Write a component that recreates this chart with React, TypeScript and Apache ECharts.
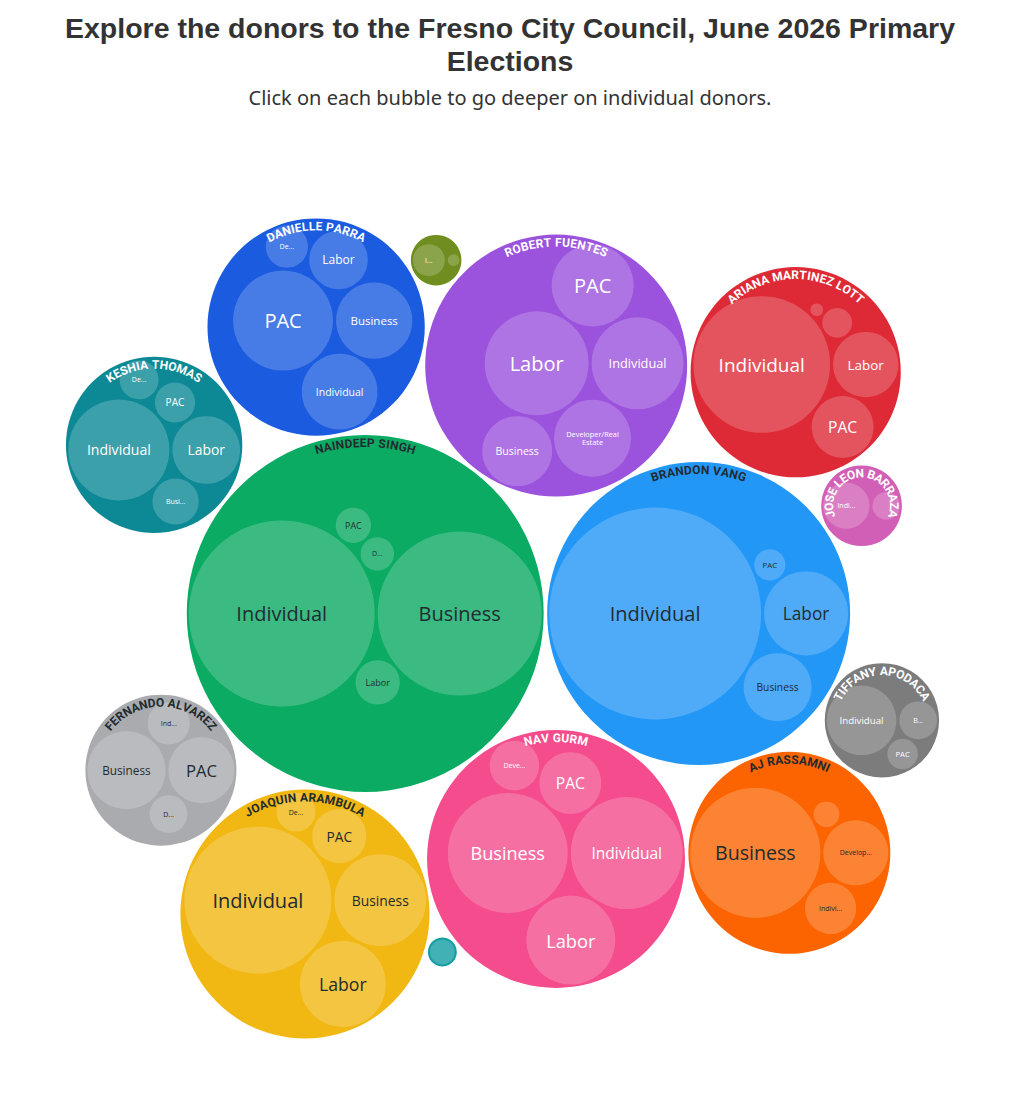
import React, { useEffect, useRef } from "react";
import * as echarts from "echarts";

// ---------------- data ----------------
const TITLE_LINES = ["Explore the donors to the Fresno City Council, June 2026 Primary", "Elections"];
const SUBTITLE = "Click on each bubble to go deeper on individual donors.";

const CANDIDATES = [
  "Naindeep Singh", "Brandon Vang", "Nav Gurm", "Robert Fuentes", "Joaquin Arambula",
  "Danielle Parra", "Ariana Martinez Lott", "AJ Rassamni", "Keshia Thomas", "Fernando Alvarez",
  "Tiffany Apodaca", "Jose Leon Barraza", "", "",
];

// donor category -> amount
const NAINDEEP_SINGH: [string, number][] = [["Individual", 77800], ["Business", 60500], ["Labor", 4400], ["Developer/Real Estate", 2500], ["PAC", 2800]];
const BRANDON_VANG: [string, number][] = [["Individual", 101000], ["Labor", 15900], ["Business", 10400], ["PAC", 2200]];
const NAV_GURM: [string, number][] = [["Business", 32400], ["Individual", 28200], ["Labor", 17800], ["PAC", 8600], ["Developer/Real Estate", 5500]];
const ROBERT_FUENTES: [string, number][] = [["Labor", 24300], ["Individual", 19000], ["Developer/Real Estate", 13300], ["PAC", 15100], ["Business", 11000]];
const JOAQUIN_ARAMBULA: [string, number][] = [["Individual", 48600], ["Business", 19000], ["Labor", 16600], ["PAC", 6600], ["Developer/Real Estate", 3400]];
const DANIELLE_PARRA: [string, number][] = [["PAC", 22500], ["Business", 13100], ["Individual", 12900], ["Labor", 7700], ["Developer/Real Estate", 4000]];
const ARIANA_MARTINEZ_LOTT: [string, number][] = [["Individual", 42000], ["Labor", 9600], ["PAC", 8600], ["Business", 2000], ["Developer/Real Estate", 360]];
const AJ_RASSAMNI: [string, number][] = [["Business", 38000], ["Developer/Real Estate", 9500], ["Individual", 5900], ["PAC", 1500]];
const KESHIA_THOMAS: [string, number][] = [["Individual", 23000], ["Labor", 10300], ["Business", 4800], ["PAC", 3600], ["Developer/Real Estate", 3400]];
const FERNANDO_ALVAREZ: [string, number][] = [["Business", 13700], ["PAC", 9800], ["Developer/Real Estate", 3200], ["Individual", 4000]];
const TIFFANY_APODACA: [string, number][] = [["Individual", 10900], ["Business", 3200], ["PAC", 2100]];
const JOSE_LEON_BARRAZA: [string, number][] = [["Individual", 4800], ["PAC", 1700]];
const UNLABELED_OLIVE: [string, number][] = [["Individual", 2300], ["PAC", 300]];
const UNLABELED_TEAL: [string, number][] = [["Individual", 1400]];

const DONORS = [
  NAINDEEP_SINGH, BRANDON_VANG, NAV_GURM, ROBERT_FUENTES, JOAQUIN_ARAMBULA, DANIELLE_PARRA,
  ARIANA_MARTINEZ_LOTT, AJ_RASSAMNI, KESHIA_THOMAS, FERNANDO_ALVAREZ, TIFFANY_APODACA,
  JOSE_LEON_BARRAZA, UNLABELED_OLIVE, UNLABELED_TEAL,
];

// ---------------- styles / layout rules ----------------
const CANDIDATE_COLORS = ["#0bab63", "#2397f6", "#f44c8c", "#9b52dd", "#f1b712", "#1a5be0", "#de2a36", "#fb6400", "#0c8995", "#a9abaf", "#7c7c7c", "#d25fb6", "#6f8e1f", "#139ea4"];
const DARK_INK = [true, true, false, false, true, false, false, true, false, true, false, false, false, false];

// packing topology: circle i is set tangent to circles [a, b], on the right-hand side of a -> b
const CANDIDATE_TOUCH: number[][] = [[], [], [0, 1], [1, 0], [0, 2], [3, 0], [1, 3], [2, 1], [5, 0], [0, 4], [7, 1], [1, 6], [3, 5], [4, 2]];
const DONOR_TOUCH: number[][][] = [
  [[], [], [0, 1], [1, 0], [3, 0]],
  [[], [], [0, 1], [1, 0]],
  [[], [], [0, 1], [1, 0], [3, 0]],
  [[], [], [0, 1], [1, 0], [0, 2]],
  [[], [], [0, 1], [1, 0], [3, 0]],
  [[], [], [0, 1], [1, 0], [3, 0]],
  [[], [], [0, 1], [1, 0], [3, 0]],
  [[], [], [0, 1], [1, 0]],
  [[], [], [0, 1], [1, 0], [3, 0]],
  [[], [], [0, 1], [1, 0]],
  [[], [], [0, 1]],
  [[], []],
  [[], []],
  [[]],
];

const CHART_W = 1004;
const CHART_H = 1103;
const CLUSTER_CENTER = [494.5, 620.5];
const LEAF_SCALE = 1 / 3; // px per sqrt(amount)
const INNER_GAP = 3;
const EDGE_GAP = 2;
const OUTER_GAP = 3.5;

const LABEL_FONT = "'Open Sans', 'Noto Sans', sans-serif";
const NAME_FONT = "Roboto, sans-serif";
const TITLE_FONT = "'Liberation Sans', Arial, sans-serif";
const SUBTITLE_FONT = "'Noto Sans', sans-serif";
const DARK_TEXT = "#222b30";

// ---------------- geometry helpers ----------------
type Circ = { x: number; y: number; r: number };

function besideRight(a: Circ, b: Circ, r: number, gap: number) {
  const da = a.r + r + gap, db = b.r + r + gap;
  const dx = b.x - a.x, dy = b.y - a.y;
  const d = Math.hypot(dx, dy);
  const ux = dx / d, uy = dy / d;
  const along = (da * da - db * db + d * d) / (2 * d);
  const h = Math.sqrt(Math.max(0, da * da - along * along));
  return { x: a.x + ux * along - uy * h, y: a.y + uy * along + ux * h };
}

function packGroup(radii: number[], touch: number[][], gap: number): Circ[] {
  const cs = radii.map((r) => ({ x: 0, y: 0, r }));
  if (cs.length > 1) cs[1].x = cs[0].r + cs[1].r + gap;
  for (let i = 2; i < cs.length; i++) {
    const [a, b] = touch[i];
    const p = besideRight(cs[a], cs[b], cs[i].r, gap);
    cs[i].x = p.x;
    cs[i].y = p.y;
  }
  return cs;
}

function enclosesNot(a: Circ, b: Circ) {
  const dr = a.r - b.r, dx = b.x - a.x, dy = b.y - a.y;
  return dr < 0 || dr * dr < dx * dx + dy * dy;
}
function enclosesWeak(a: Circ, b: Circ) {
  const dr = a.r - b.r + Math.max(a.r, b.r, 1) * 1e-9, dx = b.x - a.x, dy = b.y - a.y;
  return dr > 0 && dr * dr > dx * dx + dy * dy;
}
function enclosesWeakAll(a: Circ, B: Circ[]) {
  return B.every((b) => enclosesWeak(a, b));
}
function basis2(a: Circ, b: Circ): Circ {
  const x21 = b.x - a.x, y21 = b.y - a.y, r21 = b.r - a.r;
  const l = Math.sqrt(x21 * x21 + y21 * y21);
  return { x: (a.x + b.x + (x21 / l) * r21) / 2, y: (a.y + b.y + (y21 / l) * r21) / 2, r: (l + a.r + b.r) / 2 };
}
function basis3(a: Circ, b: Circ, c: Circ): Circ {
  const x1 = a.x, y1 = a.y, r1 = a.r, x2 = b.x, y2 = b.y, r2 = b.r, x3 = c.x, y3 = c.y, r3 = c.r;
  const a2 = x1 - x2, a3 = x1 - x3, b2 = y1 - y2, b3 = y1 - y3, c2 = r2 - r1, c3 = r3 - r1;
  const d1 = x1 * x1 + y1 * y1 - r1 * r1;
  const d2 = d1 - x2 * x2 - y2 * y2 + r2 * r2;
  const d3 = d1 - x3 * x3 - y3 * y3 + r3 * r3;
  const ab = a3 * b2 - a2 * b3;
  const xa = (b2 * d3 - b3 * d2) / (ab * 2) - x1, xb = (b3 * c2 - b2 * c3) / ab;
  const ya = (a3 * d2 - a2 * d3) / (ab * 2) - y1, yb = (a2 * c3 - a3 * c2) / ab;
  const A = xb * xb + yb * yb - 1, B = 2 * (r1 + xa * xb + ya * yb), C = xa * xa + ya * ya - r1 * r1;
  const r = -(Math.abs(A) > 1e-6 ? (B + Math.sqrt(B * B - 4 * A * C)) / (2 * A) : C / B);
  return { x: x1 + xa + xb * r, y: y1 + ya + yb * r, r };
}
function encloseBasis(B: Circ[]): Circ {
  if (B.length === 1) return { x: B[0].x, y: B[0].y, r: B[0].r };
  if (B.length === 2) return basis2(B[0], B[1]);
  return basis3(B[0], B[1], B[2]);
}
function extendBasis(B: Circ[], p: Circ): Circ[] | null {
  if (enclosesWeakAll(p, B)) return [p];
  for (let i = 0; i < B.length; i++) {
    if (enclosesNot(p, B[i]) && enclosesWeakAll(basis2(B[i], p), B)) return [B[i], p];
  }
  for (let i = 0; i < B.length - 1; i++) {
    for (let j = i + 1; j < B.length; j++) {
      if (
        enclosesNot(basis2(B[i], B[j]), p) &&
        enclosesNot(basis2(B[i], p), B[j]) &&
        enclosesNot(basis2(B[j], p), B[i]) &&
        enclosesWeakAll(basis3(B[i], B[j], p), B)
      ) return [B[i], B[j], p];
    }
  }
  return null;
}
function enclose(circles: Circ[]): Circ {
  let i = 0, B: Circ[] = [], e: Circ | null = null, guard = 0;
  while (i < circles.length && guard++ < 20000) {
    const p = circles[i];
    if (e && enclosesWeak(e, p)) i++;
    else {
      const nb = extendBasis(B, p);
      if (!nb) { e = null; break; }
      B = nb;
      e = encloseBasis(B);
      i = 0;
    }
  }
  if (!e || !isFinite(e.r)) {
    const cx = circles.reduce((s, c) => s + c.x, 0) / circles.length;
    const cy = circles.reduce((s, c) => s + c.y, 0) / circles.length;
    const r = Math.max(...circles.map((c) => Math.hypot(c.x - cx, c.y - cy) + c.r));
    return { x: cx, y: cy, r };
  }
  return e;
}

// ---------------- text helpers ----------------
let measureCtx: CanvasRenderingContext2D | null = null;
function textWidth(text: string, font: string): number {
  if (!measureCtx) measureCtx = document.createElement("canvas").getContext("2d");
  if (!measureCtx) return text.length * 0.55 * parseFloat(font.split("px")[0].split(" ").pop() || "10");
  measureCtx.font = font;
  return measureCtx.measureText(text).width;
}

function fitLabel(text: string, r: number): { text: string; size: number } | null {
  const em = (s: string) => textWidth(s, `400 100px ${LABEL_FONT}`) / 100;
  let size = (1.38 * r) / Math.sqrt(em(text) ** 2 + 4);
  let out = text;
  const sp = text.lastIndexOf(" ");
  if (sp > 0) {
    const a = text.slice(0, sp), b = text.slice(sp + 1);
    const w = Math.max(em(a), em(b));
    const s2 = (1.38 * r) / Math.sqrt(w * w + 1);
    if (s2 > size) { size = s2; out = a + "\n" + b; }
  }
  size = Math.min(20, size);
  if (size >= 7.3) return { text: out, size };
  const limit = 1.5 * r - 14;
  const font7 = `400 7px ${LABEL_FONT}`;
  for (let n = text.length - 1; n >= 1; n--) {
    const t = text.slice(0, n).trimEnd() + "...";
    if (textWidth(t, font7) <= limit) return { text: t, size: 7 };
  }
  return null;
}

// ---------------- layout ----------------
type ParentNode = { x: number; y: number; r: number; idx: number };
type ChildNode = { x: number; y: number; r: number; parent: number; label: { text: string; size: number } | null };

function buildLayout() {
  const groups = CANDIDATES.map((_, i) => {
    const donors = DONORS[i];
    const radii = donors.map((d) => Math.sqrt(d[1]) * LEAF_SCALE);
    const kids = packGroup(radii, DONOR_TOUCH[i], INNER_GAP);
    const e = enclose(kids);
    kids.forEach((k) => { k.x -= e.x; k.y -= e.y; });
    return { r: e.r + EDGE_GAP, kids };
  });
  const outer = packGroup(groups.map((g) => g.r), CANDIDATE_TOUCH, OUTER_GAP);
  const minX = Math.min(...outer.map((c) => c.x - c.r));
  const maxX = Math.max(...outer.map((c) => c.x + c.r));
  const minY = Math.min(...outer.map((c) => c.y - c.r));
  const maxY = Math.max(...outer.map((c) => c.y + c.r));
  const ox = CLUSTER_CENTER[0] - (minX + maxX) / 2;
  const oy = CLUSTER_CENTER[1] - (minY + maxY) / 2;
  const parents: ParentNode[] = outer.map((c, i) => ({ x: c.x + ox, y: c.y + oy, r: c.r, idx: i }));
  const children: ChildNode[] = [];
  groups.forEach((g, i) => {
    g.kids.forEach((k, j) => {
      children.push({
        x: k.x + parents[i].x,
        y: k.y + parents[i].y,
        r: k.r,
        parent: i,
        label: fitLabel(DONORS[i][j][0], k.r),
      });
    });
  });
  return { parents, children };
}

function nameGlyphs(name: string, cx: number, cy: number, R: number, fill: string) {
  const text = name.toUpperCase();
  const fontSize = 12;
  const font = `700 ${fontSize}px ${NAME_FONT}`;
  const spacing = 0.4;
  const chars = Array.from(text);
  const widths = chars.map((c) => textWidth(c, font));
  const total = widths.reduce((s, w) => s + w, 0) + spacing * (chars.length - 1);
  const rm = R - 8;
  let s = -total / 2;
  const out: any[] = [];
  chars.forEach((ch, i) => {
    const mid = s + widths[i] / 2;
    s += widths[i] + spacing;
    if (ch === " ") return;
    const th = -Math.PI / 2 + mid / rm;
    out.push({
      type: "text",
      x: cx + rm * Math.cos(th),
      y: cy + rm * Math.sin(th),
      rotation: -(th + Math.PI / 2),
      style: {
        text: ch, fill, fontSize, fontWeight: 700, fontFamily: NAME_FONT,
        align: "center", verticalAlign: "middle", textAlign: "center", textVerticalAlign: "middle",
      },
    });
  });
  return out;
}

export default function App() {
  const ref = useRef<HTMLDivElement>(null);
  useEffect(() => {
    if (!ref.current) return;
    const chart = echarts.init(ref.current, undefined, { renderer: "svg" });
    const { parents, children } = buildLayout();

    const option: any = {
      animation: false,
      title: {
        text: TITLE_LINES.join("\n"),
        subtext: SUBTITLE,
        left: "center",
        top: 3,
        padding: 0,
        itemGap: 8,
        textStyle: { fontFamily: TITLE_FONT, fontWeight: 700, fontSize: 28.5, lineHeight: 33, color: "#333333" },
        subtextStyle: { fontFamily: SUBTITLE_FONT, fontWeight: 400, fontSize: 20, lineHeight: 24, color: "#333333" },
      },
      grid: { left: 0, right: 0, top: 0, bottom: 0 },
      xAxis: { type: "value", min: 0, max: CHART_W, show: false },
      yAxis: { type: "value", min: 0, max: CHART_H, inverse: true, show: false },
      series: [
        {
          type: "custom",
          coordinateSystem: "cartesian2d",
          silent: true,
          clip: false,
          data: parents.map((p) => [p.x, p.y, p.r]),
          renderItem: (params: any, api: any) => {
            const c = api.coord([api.value(0), api.value(1)]);
            const r = api.size([api.value(2), 0])[0];
            return { type: "circle", shape: { cx: c[0], cy: c[1], r }, style: { fill: CANDIDATE_COLORS[params.dataIndex] } };
          },
        },
        {
          type: "custom",
          coordinateSystem: "cartesian2d",
          silent: true,
          clip: false,
          data: children.map((k) => [k.x, k.y, k.r]),
          renderItem: (params: any, api: any) => {
            const node = children[params.dataIndex];
            const c = api.coord([api.value(0), api.value(1)]);
            const r = api.size([api.value(2), 0])[0];
            const els: any[] = [
              { type: "circle", shape: { cx: c[0], cy: c[1], r }, style: { fill: "rgba(255,255,255,0.2)" } },
            ];
            if (node.label) {
              els.push({
                type: "text",
                style: {
                  text: node.label.text,
                  x: c[0],
                  y: c[1],
                  fontSize: node.label.size,
                  lineHeight: node.label.size * 1.15,
                  fontFamily: LABEL_FONT,
                  fontWeight: 400,
                  fill: DARK_INK[node.parent] ? DARK_TEXT : "#ffffff",
                  align: "center",
                  verticalAlign: "middle",
                  textAlign: "center",
                  textVerticalAlign: "middle",
                },
              });
            }
            return { type: "group", children: els };
          },
        },
        {
          type: "custom",
          coordinateSystem: "cartesian2d",
          silent: true,
          clip: false,
          data: parents.map((p) => [p.x, p.y, p.r]),
          renderItem: (params: any, api: any) => {
            const i = params.dataIndex;
            const c = api.coord([api.value(0), api.value(1)]);
            const R = api.size([api.value(2), 0])[0];
            const name = CANDIDATES[i];
            if (!name || R < 35) return { type: "group", children: [] };
            return { type: "group", children: nameGlyphs(name, c[0], c[1], R, DARK_INK[i] ? DARK_TEXT : "#ffffff") };
          },
        },
      ],
    };
    chart.setOption(option);
    return () => chart.dispose();
  }, []);
  return <div ref={ref} style={{ width: CHART_W, height: CHART_H }} />;
}
